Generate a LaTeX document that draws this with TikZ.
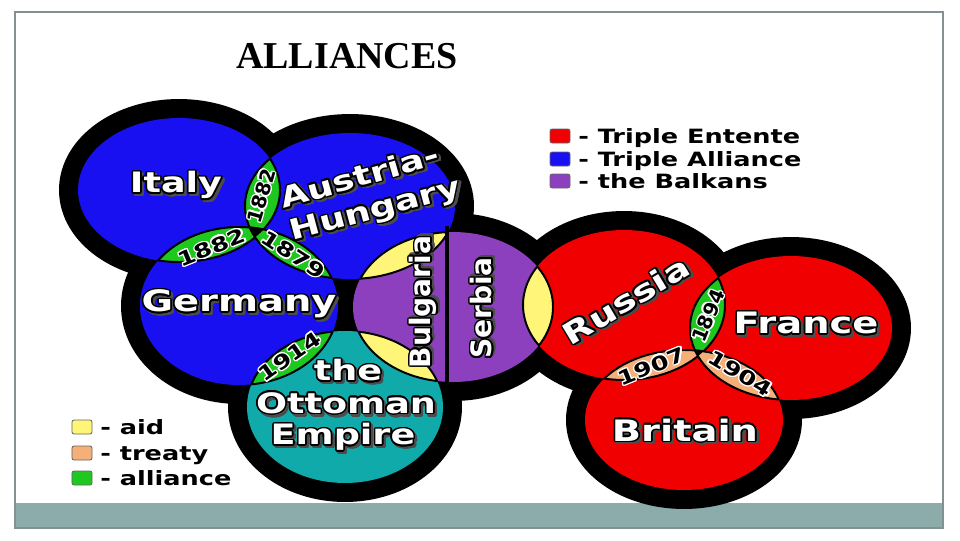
\documentclass[tikz,border=0pt]{standalone}
\usepackage{fontspec}
\setmainfont{Liberation Serif}
\newfontfamily\lblfont[FakeStretch=1.3]{DejaVu Sans}
\newfontfamily\vlblfont{DejaVu Sans}
\usepackage{xcolor}
\definecolor{allyblue}{RGB}{24,16,240}
\definecolor{ententered}{RGB}{240,0,0}
\definecolor{balkanpurple}{RGB}{140,64,190}
\definecolor{ottomanteal}{RGB}{16,170,170}
\definecolor{aidyellow}{RGB}{255,245,120}
\definecolor{treatypeach}{RGB}{245,175,120}
\definecolor{alliancegreen}{RGB}{30,200,30}
\definecolor{slidebar}{RGB}{140,172,172}
\definecolor{slideline}{RGB}{130,145,145}
\usepackage{contour}
\contourlength{1.1pt}
\usepackage{tikz}
\usetikzlibrary{positioning}

%% white label with black outline and drop shadow
\newcommand\shadowlbl[1]{\leavevmode\rlap{\kern1.6pt\raisebox{-1.6pt}{\contour{black!70}{\color{black!70}#1}}}\contour{black}{#1}}
%% black year with white outline
\newcommand\yearlbl[1]{\contourlength{0.9pt}\contour{white}{#1}}
%% filled lens of two ellipses, outlined
\newcommand\venlens[3]{%
  \begin{scope}\clip #1; \fill[#3] #2; \end{scope}%
  \begin{scope}\clip #1; \draw[lensline] #2; \end{scope}%
  \begin{scope}\clip #2; \draw[lensline] #1; \end{scope}}

\tikzset{
  country/.style={font=\lblfont\bfseries\fontsize{21}{21}\selectfont, text=white, inner sep=0pt},
  vcountry/.style={font=\vlblfont\bfseries\fontsize{20}{20}\selectfont, text=white, inner sep=0pt, rotate=90},
  yearlabel/.style={font=\lblfont\bfseries\fontsize{14}{14}\selectfont, text=black, inner sep=0pt},
  vyearlabel/.style={font=\vlblfont\bfseries\fontsize{14}{14}\selectfont, text=black, inner sep=0pt},
  keytext/.style={font=\lblfont\bfseries\fontsize{14}{14}\selectfont, anchor=base west, inner sep=0pt},
  keybox/.style={draw=black!60, line width=0.6pt, rounded corners=1.5pt,
                 minimum width=0.5cm, minimum height=0.35cm, inner sep=0pt},
  lensline/.style={draw=black, line width=1.4pt},
  ring/.style={draw=black, line width=27pt},
}

\begin{document}
\begin{tikzpicture}[x=0.025cm, y=-0.025cm]
  \useasboundingbox (0,0) rectangle (960,540);
  %% slide frame
  \fill[slidebar] (15,503) rectangle (943,528);
  \draw[slideline, line width=0.8pt] (15,12) rectangle (943,528);
  \node[font=\bfseries\fontsize{27}{27}\selectfont] (title) at (347,56) {ALLIANCES};

  %% circles
  \def\italyE{(179,190) ellipse [x radius=101, y radius=72]}
  \def\austriaE{(350,206) ellipse [x radius=105, y radius=73]}
  \def\germanyE{(239,306) ellipse [x radius=99, y radius=79]}
  \def\ottomanE{(345,407) ellipse [x radius=98, y radius=76]}
  \def\balkanE{(453,307) ellipse [x radius=100, y radius=75]}
  \def\russiaE{(624,305) ellipse [x radius=101, y radius=75]}
  \def\franceE{(791,328) ellipse [x radius=101, y radius=72]}
  \def\britainE{(684,420) ellipse [x radius=99, y radius=70]}

  \foreach \e in {\italyE,\austriaE,\germanyE,\ottomanE,\balkanE,\russiaE,\franceE,\britainE}
    \draw[ring] \e;
  \fill[allyblue] \italyE;
  \fill[allyblue] \austriaE;
  \fill[allyblue] \germanyE;
  \fill[ottomanteal] \ottomanE;
  \fill[balkanpurple] \balkanE;
  \fill[ententered] \russiaE;
  \fill[ententered] \franceE;
  \fill[ententered] \britainE;

  %% overlaps
  \venlens{\italyE}{\austriaE}{alliancegreen}
  \venlens{\italyE}{\germanyE}{alliancegreen}
  \venlens{\austriaE}{\germanyE}{alliancegreen}
  \venlens{\germanyE}{\ottomanE}{alliancegreen}
  \venlens{\austriaE}{\balkanE}{aidyellow}
  \venlens{\ottomanE}{\balkanE}{aidyellow}
  \venlens{\balkanE}{\russiaE}{aidyellow}
  \venlens{\russiaE}{\franceE}{alliancegreen}
  \venlens{\russiaE}{\britainE}{treatypeach}
  \venlens{\franceE}{\britainE}{treatypeach}
  \begin{scope}\clip \italyE; \clip \austriaE; \fill[black] \germanyE; \end{scope}
  \begin{scope}\clip \russiaE; \clip \franceE; \fill[black] \britainE; \end{scope}
  %% Bulgaria | Serbia
  \draw[black, line width=2.8pt] (447,226) -- (447,388);

  %% countries
  \node[country, font=\lblfont\bfseries\fontsize{20}{20}\selectfont] (italy) at (176,187) {\shadowlbl{Italy}};
  \node[country, font=\lblfont\bfseries\fontsize{20}{20}\selectfont, rotate=16] (austria) at (360,178) {\shadowlbl{Austria-}};
  \node[country, font=\lblfont\bfseries\fontsize{20}{20}\selectfont, rotate=15] (hungary) at (376,213) {\shadowlbl{Hungary}};
  \node[country] (germany) at (239,306) {\shadowlbl{Germany}};
  \node[country, font=\lblfont\bfseries\fontsize{20}{20}\selectfont] (the) at (348,372) {\shadowlbl{the}};
  \node[country, font=\lblfont\bfseries\fontsize{20}{20}\selectfont] (ottoman) at (346,405) {\shadowlbl{Ottoman}};
  \node[country, font=\lblfont\bfseries\fontsize{20}{20}\selectfont] (empire) at (343,439) {\shadowlbl{Empire}};
  \node[vcountry] (bulgaria) at (425,302) {\shadowlbl{Bulgaria}};
  \node[vcountry] (serbia) at (483,308) {\shadowlbl{Serbia}};
  \node[country, rotate=31] (russia) at (627,302) {\shadowlbl{Russia}};
  \node[country] (france) at (806,325) {\shadowlbl{France}};
  \node[country] (britain) at (685,432) {\shadowlbl{Britain}};

  %% years
  \node[vyearlabel, rotate=74] (y1882a) at (262,196) {\yearlbl{1882}};
  \node[yearlabel, rotate=22] (y1882b) at (212,248) {\yearlbl{1882}};
  \node[yearlabel, rotate=-33] (y1879) at (293,255) {\yearlbl{1879}};
  \node[yearlabel, rotate=35] (y1914) at (290,357) {\yearlbl{1914}};
  \node[vyearlabel, rotate=68] (y1894) at (709,316) {\yearlbl{1894}};
  \node[yearlabel, rotate=22] (y1907) at (652,367) {\yearlbl{1907}};
  \node[yearlabel, rotate=-31] (y1904) at (740,374) {\yearlbl{1904}};

  %% key, top right
  \node[keybox, fill=ententered] (keyEntente) at (560,136) {};
  \node[keybox, fill=allyblue] (keyAlliance) at (560,159) {};
  \node[keybox, fill=balkanpurple] (keyBalkans) at (560,181) {};
  \node[keytext] (txtEntente) at (578,143) {- Triple Entente};
  \node[keytext] (txtAlliance) at (578,166) {- Triple Alliance};
  \node[keytext] (txtBalkans) at (578,188) {- the Balkans};
  %% key, bottom left
  \node[keybox, fill=aidyellow] (keyAid) at (82,427) {};
  \node[keybox, fill=treatypeach] (keyTreaty) at (82,453) {};
  \node[keybox, fill=alliancegreen] (keyAlly) at (82,478) {};
  \node[keytext] (txtAid) at (100,434) {- aid};
  \node[keytext] (txtTreaty) at (100,460) {- treaty};
  \node[keytext] (txtAlly) at (100,485) {- alliance};
\end{tikzpicture}
\end{document}
